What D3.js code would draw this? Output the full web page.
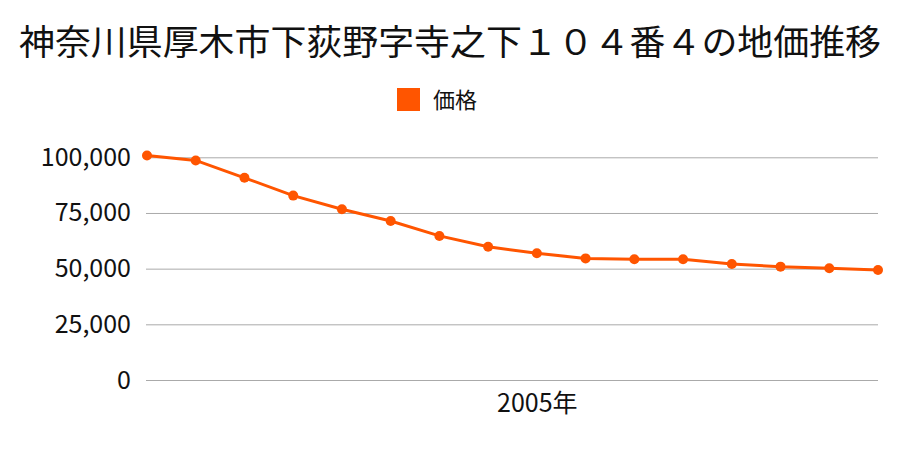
<!DOCTYPE html>
<html><head><meta charset="utf-8">
<script src="https://cdn.jsdelivr.net/npm/d3@7"></script>
<style>body{margin:0;background:#fff}svg{display:block}text{font-family:"Noto Sans CJK JP","Noto Sans",sans-serif;fill:#111}</style>
</head><body><svg id="c" width="900" height="450"></svg>
<script>
const title = "神奈川県厚木市下荻野字寺之下１０４番４の地価推移";
const seriesName = "価格";
const years = [1997,1998,1999,2000,2001,2002,2003,2004,2005,2006,2007,2008,2009,2010,2011,2012];
const prices = [100800,98600,90800,82800,76700,71400,64700,59800,56900,54600,54200,54200,52100,50900,50200,49400];
const yTicks = [0,25000,50000,75000,100000];
const xTickYears = [2005];

const svg = d3.select("#c");
const x = d3.scalePoint().domain(years).range([147,878]).padding(0);
const y = d3.scaleLinear().domain([0,100000]).range([380,157.3]);

svg.append("text").attr("x",450).attr("y",55).attr("text-anchor","middle")
  .attr("font-size",35).attr("textLength",862).attr("lengthAdjust","spacingAndGlyphs").text(title);

// legend
svg.append("rect").attr("x",397).attr("y",88).attr("width",23).attr("height",23).attr("fill","#ff5500");
svg.append("text").attr("x",433).attr("y",108).attr("font-size",22).text(seriesName);

// grid + y axis
const yAxis = d3.axisLeft(y).tickValues(yTicks).tickSize(-(878-146)).tickFormat(d3.format(","));
const gy = svg.append("g").attr("transform","translate(146,0)").call(yAxis);
gy.select(".domain").remove();
gy.selectAll(".tick line").attr("stroke","#aaaaaa").attr("stroke-width",1);
gy.selectAll(".tick text").attr("x",-15).attr("font-size",25).attr("fill","#111")
  .attr("font-family","\"Noto Sans CJK JP\",sans-serif");

// x axis
const xAxis = d3.axisBottom(x).tickValues(xTickYears).tickSize(0).tickFormat(d=>d+"年");
const gx = svg.append("g").attr("transform","translate(0,380)").call(xAxis);
gx.select(".domain").remove();
gx.selectAll(".tick text").attr("dy",0).attr("y",32).attr("font-size",25).attr("fill","#111")
  .attr("font-family","\"Noto Sans CJK JP\",sans-serif");

// line
const line = d3.line().x((d,i)=>x(years[i])).y(d=>y(d));
svg.append("path").datum(prices).attr("d",line).attr("fill","none")
  .attr("stroke","#ff5500").attr("stroke-width",3);
svg.selectAll("circle.pt").data(prices).join("circle").attr("class","pt")
  .attr("cx",(d,i)=>x(years[i])).attr("cy",d=>y(d)).attr("r",5).attr("fill","#ff5500");
</script></body></html>
